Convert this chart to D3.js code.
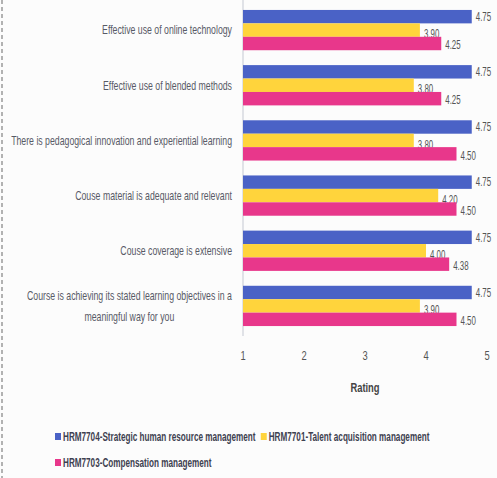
<!DOCTYPE html>
<html lang="en">
<head>
<meta charset="utf-8">
<style>
body { margin:0; background:#fcfcfc; }
text { font-family: "Liberation Sans", Arial, sans-serif; }
</style>
<script src="https://cdn.jsdelivr.net/npm/d3@7"></script>
</head>
<body>
<div id="chart"></div>
<script>

var width = 497
var height = 478

// data
var categories = [
  ["Effective use of online technology"],
  ["Effective use of blended methods"],
  ["There is pedagogical innovation and experiential learning"],
  ["Couse material is adequate and relevant"],
  ["Couse coverage is extensive"],
  ["Course is achieving its stated learning objectives in a", "meaningful way for you"]
]
var seriesNames = ["HRM7704-Strategic human resource management", "HRM7701-Talent acquisition management", "HRM7703-Compensation management"]
var hrm7704 = [4.75, 4.75, 4.75, 4.75, 4.75, 4.75]
var hrm7701 = [3.90, 3.80, 3.80, 4.20, 4.00, 3.90]
var hrm7703 = [4.25, 4.25, 4.50, 4.50, 4.38, 4.50]
var ticks = [1, 2, 3, 4, 5]
var colors = ["#4a62c6", "#ffd43c", "#e8378b"]

var series = [hrm7704, hrm7701, hrm7703]

// the reference uses a narrow font: squeeze Liberation Sans horizontally around its x anchor
function squeeze(sel, k) {
  sel.each(function() {
    var t = d3.select(this)
    var x0 = +t.attr("x")
    t.attr("transform", "translate(" + x0 + ",0) scale(" + k + ",1) translate(" + (-x0) + ",0)")
  })
}

var svg = d3.select("#chart").append("svg")
    .attr("width", width)
    .attr("height", height)

// dashed border on the left
svg.append("line")
    .attr("x1", 2).attr("x2", 2).attr("y1", 0).attr("y2", height)
    .attr("stroke", "#999").attr("stroke-width", 1.5).attr("stroke-dasharray", "4,3")

var x = d3.scaleLinear().domain([1, 5]).range([243, 487])
var y = d3.scaleBand().domain(d3.range(categories.length)).range([2.5, 333.5])
    .paddingInner(0.27).paddingOuter(0.135)
var y1 = d3.scaleBand().domain(d3.range(series.length)).range([0, y.bandwidth()])

// axis line
svg.append("line")
    .attr("x1", x(1)).attr("x2", x(1)).attr("y1", 0).attr("y2", 336)
    .attr("stroke", "#c4c8d2").attr("stroke-width", 1)

var groups = svg.selectAll("g.grp")
  .data(categories)
  .enter().append("g")
    .attr("class", "grp")
    .attr("transform", function(d, i) { return "translate(0," + y(i) + ")" })

series.forEach(function(vals, s) {
  groups.append("rect")
    .attr("x", x(1))
    .attr("y", y1(s))
    .attr("height", y1.bandwidth())
    .attr("width", function(d, i) { return x(vals[i]) - x(1) })
    .attr("fill", colors[s])

  var dy = [0, 4, 1.5][s]
  var lab = groups.append("text")
    .attr("x", function(d, i) { return x(vals[i]) + 4 })
    .attr("y", y1(s) + y1.bandwidth() / 2 + dy)
    .attr("dy", "0.35em")
    .attr("font-size", 12)
    .attr("fill", "#555")
    .text(function(d, i) { return vals[i].toFixed(2) })
  squeeze(lab, 0.66)
})

// category labels
var catK = 0.7
groups.each(function(d) {
  var g = d3.select(this)
  var lh = 21
  var y0 = y.bandwidth() / 2 - (d.length - 1) * lh / 2
  if (d.length == 1) {
    var t = g.append("text")
      .attr("font-size", 12.5).attr("fill", "#585a66")
      .attr("text-anchor", "end").attr("x", 232).attr("y", y0).attr("dy", "0.35em").text(d[0])
    squeeze(t, catK)
  } else {
    var tmp = g.append("text").attr("font-size", 12.5).text(d[0])
    var w = tmp.node().getComputedTextLength() * catK
    tmp.remove()
    d.forEach(function(line, k) {
      var t = g.append("text")
        .attr("font-size", 12.5).attr("fill", "#585a66")
        .attr("text-anchor", "middle")
        .attr("x", 232 - w / 2).attr("y", y0 + k * lh).attr("dy", "0.35em").text(line)
      squeeze(t, catK)
    })
  }
})

// x axis ticks
var tk = svg.selectAll("text.tick")
  .data(ticks)
  .enter().append("text")
    .attr("class", "tick")
    .attr("x", function(d) { return x(d) })
    .attr("y", 356)
    .attr("dy", "0.35em")
    .attr("text-anchor", "middle")
    .attr("font-size", 12.5)
    .attr("fill", "#555")
    .text(function(d) { return d })
squeeze(tk, 0.75)

var rt = svg.append("text")
    .attr("x", (x(1) + x(5)) / 2)
    .attr("y", 388)
    .attr("dy", "0.35em")
    .attr("text-anchor", "middle")
    .attr("font-size", 12.5)
    .attr("font-weight", "bold")
    .attr("fill", "#444")
    .text("Rating")
squeeze(rt, 0.75)

// legend
var legK = 0.68
var leg = svg.append("g")
var cx = 55
seriesNames.forEach(function(name, s) {
  var px = cx, py = 437
  if (s == 2) { px = 55; py = 463 }
  leg.append("rect")
    .attr("x", px).attr("y", py - 4).attr("width", 6).attr("height", 7)
    .attr("fill", colors[s])
  var t = leg.append("text")
    .attr("x", px + 8).attr("y", py)
    .attr("dy", "0.35em")
    .attr("font-size", 12)
    .attr("font-weight", "bold")
    .attr("fill", "#3e4150")
    .text(name)
  var w = t.node().getComputedTextLength() * legK
  squeeze(t, legK)
  cx = px + 8 + w + 5
})

</script>
</body>
</html>
